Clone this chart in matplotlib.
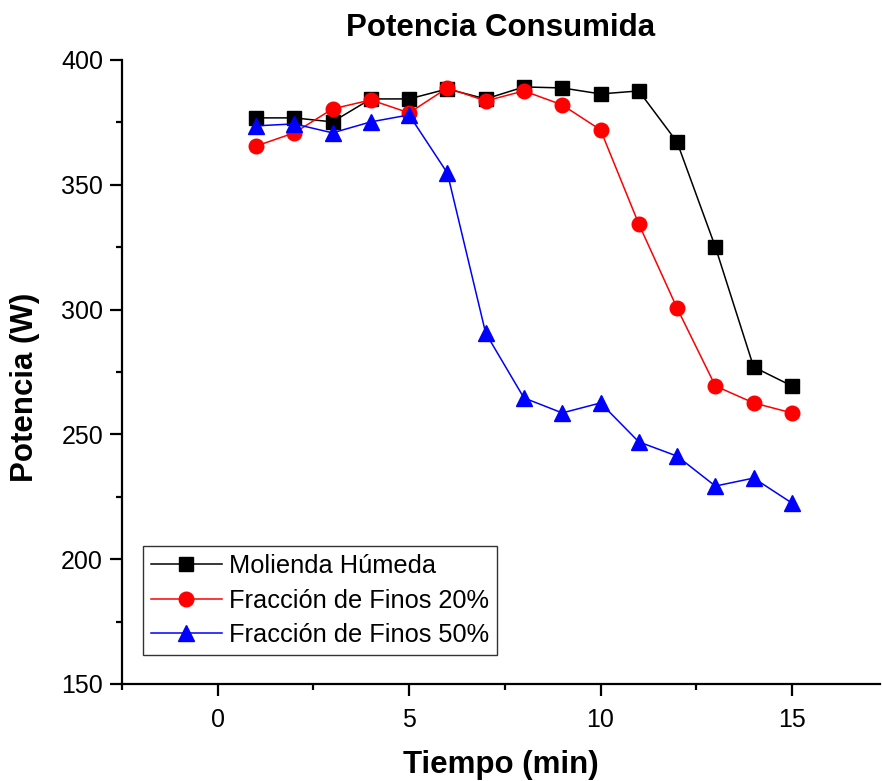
import matplotlib
matplotlib.use("Agg")
import matplotlib.pyplot as plt
from matplotlib.ticker import MultipleLocator

plt.rcParams['font.family'] = ['Liberation Sans', 'DejaVu Sans']

tiempo = [1, 2, 3, 4, 5, 6, 7, 8, 9, 10, 11, 12, 13, 14, 15]
humeda = [376.8, 376.8, 375.2, 384.4, 384.4, 388.4, 384.4, 389.2, 388.8, 386.4, 387.6, 367.1, 325.1, 277.0, 269.4]
finos20 = [365.5, 370.8, 380.4, 384.0, 378.8, 388.8, 383.6, 387.6, 382.0, 372.0, 334.3, 300.6, 269.4, 262.6, 258.6]
finos50 = [373.6, 374.4, 370.8, 375.2, 378.0, 354.7, 290.6, 264.6, 258.6, 262.6, 247.0, 241.3, 229.3, 232.5, 222.5]

fig = plt.figure(figsize=(8.82, 7.81), dpi=100)
ax = fig.add_axes([0.1383, 0.1242, 0.8594, 0.799])

ax.plot(tiempo, humeda, color='black', lw=1.1, marker='s', ms=9.5, label='Molienda Húmeda')
ax.plot(tiempo, finos20, color='red', lw=1.1, marker='o', ms=10.5, label='Fracción de Finos 20%')
ax.plot(tiempo, finos50, color='blue', lw=1.1, marker='^', ms=12, label='Fracción de Finos 50%')

ax.set_xlim(-2.5, 17.3)
ax.set_ylim(150, 400)
ax.xaxis.set_major_locator(MultipleLocator(5))
ax.xaxis.set_minor_locator(MultipleLocator(2.5))
ax.yaxis.set_major_locator(MultipleLocator(50))
ax.yaxis.set_minor_locator(MultipleLocator(25))
ax.spines['top'].set_visible(False)
ax.spines['right'].set_visible(False)
for s in ['left', 'bottom']:
    ax.spines[s].set_linewidth(1.6)
ax.tick_params(which='major', direction='out', length=8.6, width=1.6, labelsize=18)
ax.tick_params(axis='x', which='major', pad=8.6)
ax.tick_params(axis='y', which='major', pad=5)
ax.tick_params(which='minor', direction='out', length=4, width=1.6)

ax.set_title('Potencia Consumida', fontsize=22.5, fontweight='bold', pad=17)
ax.set_xlabel('Tiempo (min)', fontsize=22.5, fontweight='bold')
ax.set_ylabel('Potencia (W)', fontsize=22.5, fontweight='bold')
ax.xaxis.set_label_coords(0.5, -0.105)
ax.yaxis.set_label_coords(-0.108, 0.475)

leg = ax.legend(loc='lower left', bbox_to_anchor=(0.0277, 0.0465), borderaxespad=0,
                fontsize=18.3, frameon=True, fancybox=False, edgecolor='black',
                handlelength=2.8, borderpad=0.3, labelspacing=0.42, handletextpad=0.3)
leg.get_frame().set_linewidth(1)

fig.savefig('out.png', dpi=100)
